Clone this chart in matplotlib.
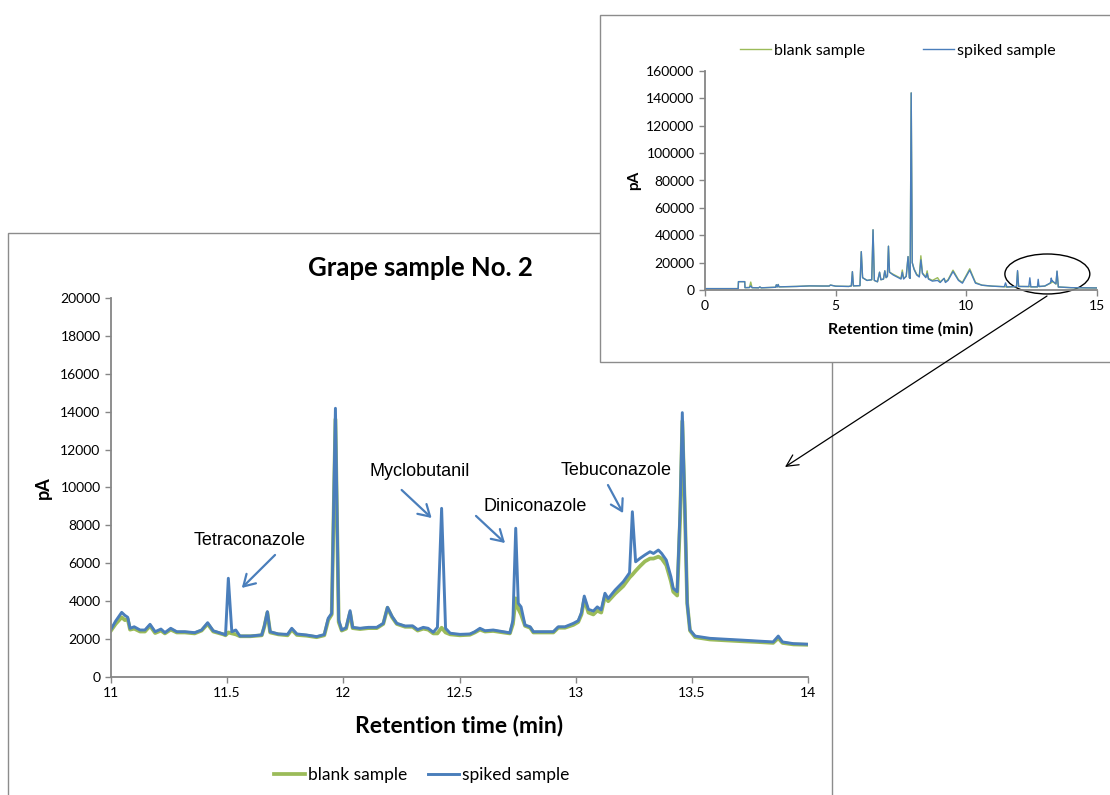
import matplotlib
matplotlib.use("Agg")
import matplotlib.pyplot as plt
from matplotlib.patches import Rectangle, Ellipse

# ---- zoomed chromatogram, 11-14 min ----
zoom_time = [11.000, 11.020, 11.046, 11.060, 11.072, 11.082, 11.100, 11.125, 11.146, 11.168,
             11.190, 11.215, 11.232, 11.257, 11.283, 11.318, 11.360, 11.390, 11.416, 11.440,
             11.483, 11.493, 11.505, 11.520, 11.537, 11.555, 11.600, 11.649, 11.660, 11.673,
             11.685, 11.720, 11.760, 11.778, 11.800, 11.842, 11.885, 11.918, 11.935, 11.950,
             11.966, 11.980, 11.993, 12.012, 12.029, 12.040, 12.072, 12.108, 12.144, 12.172,
             12.190, 12.210, 12.230, 12.266, 12.298, 12.320, 12.344, 12.365, 12.387, 12.405,
             12.423, 12.440, 12.460, 12.502, 12.545, 12.566, 12.588, 12.610, 12.645, 12.688,
             12.717, 12.730, 12.742, 12.753, 12.765, 12.782, 12.804, 12.818, 12.860, 12.904,
             12.925, 12.954, 12.990, 13.011, 13.025, 13.037, 13.055, 13.076, 13.093, 13.110,
             13.126, 13.140, 13.170, 13.205, 13.220, 13.232, 13.244, 13.258, 13.277, 13.298,
             13.320, 13.335, 13.356, 13.370, 13.390, 13.410, 13.420, 13.437, 13.450, 13.459,
             13.470, 13.480, 13.492, 13.514, 13.578, 13.650, 13.710, 13.779, 13.850, 13.872,
             13.890, 13.937, 14.000]
zoom_spiked = [2520, 2950, 3410, 3250, 3150, 2570, 2650, 2480, 2480, 2780,
               2390, 2530, 2340, 2570, 2390, 2390, 2340, 2480, 2865, 2440,
               2270, 2220, 5210, 2390, 2480, 2160, 2160, 2220, 2700, 3450,
               2390, 2270, 2250, 2570, 2270, 2216, 2130, 2240, 3100, 3360,
               14180, 3010, 2480, 2600, 3500, 2620, 2570, 2620, 2620, 2830,
               3680, 3190, 2830, 2690, 2700, 2500, 2620, 2570, 2360, 2620,
               8900, 2570, 2310, 2250, 2270, 2390, 2570, 2440, 2480, 2390,
               2330, 3000, 7850, 3890, 3700, 2740, 2650, 2390, 2390, 2390,
               2650, 2650, 2830, 2970, 3400, 4270, 3570, 3480, 3700, 3540,
               4420, 4140, 4590, 5030, 5290, 5500, 8720, 6080, 6260, 6440,
               6610, 6520, 6700, 6520, 6170, 5290, 4680, 4500, 9000, 13950,
               9000, 3890, 2480, 2160, 2040, 1990, 1950, 1900, 1850, 2160,
               1850, 1760, 1730]
zoom_blank = [2450, 2800, 3150, 3000, 3050, 2500, 2550, 2400, 2400, 2700,
              2320, 2450, 2300, 2500, 2350, 2350, 2300, 2450, 2800, 2400,
              2250, 2200, 2350, 2300, 2250, 2150, 2150, 2200, 2650, 3400,
              2350, 2250, 2200, 2500, 2220, 2180, 2100, 2200, 3000, 3300,
              13600, 2900, 2450, 2550, 3400, 2580, 2530, 2580, 2580, 2800,
              3650, 3150, 2800, 2650, 2650, 2450, 2550, 2500, 2300, 2300,
              2600, 2350, 2250, 2200, 2230, 2350, 2500, 2400, 2430, 2350,
              2300, 2800, 4150, 3600, 3300, 2700, 2600, 2350, 2350, 2350,
              2600, 2600, 2750, 2900, 3300, 4100, 3400, 3300, 3500, 3400,
              4250, 4000, 4400, 4800, 5050, 5250, 5400, 5600, 5850, 6100,
              6250, 6250, 6350, 6250, 5900, 5050, 4500, 4300, 8500, 13500,
              8800, 3900, 2450, 2100, 1980, 1930, 1890, 1850, 1800, 2050,
              1800, 1720, 1700]

# ---- full chromatogram, 0-15 min ----
full_time = [0.00, 1.27, 1.28, 1.52, 1.53, 1.70, 1.75, 1.80, 2.05, 2.10,
             2.15, 2.70, 2.73, 2.76, 2.80, 2.83, 3.50, 4.00, 4.50, 4.75,
             4.80, 5.00, 5.50, 5.60, 5.64, 5.68, 5.93, 5.98, 6.03, 6.20,
             6.38, 6.43, 6.48, 6.60, 6.68, 6.73, 6.83, 6.88, 6.93, 6.98,
             7.02, 7.06, 7.20, 7.35, 7.50, 7.55, 7.60, 7.70, 7.77, 7.82,
             7.85, 7.89, 7.93, 8.00, 8.10, 8.20, 8.26, 8.32, 8.45, 8.50,
             8.55, 8.70, 8.90, 9.00, 9.15, 9.20, 9.30, 9.49, 9.70, 9.85,
             10.13, 10.35, 10.60, 11.00, 11.45, 11.50, 11.55, 11.92, 11.96, 12.00,
             12.39, 12.43, 12.47, 12.72, 12.75, 12.78, 13.00, 13.20, 13.22, 13.25,
             13.28, 13.30, 13.43, 13.47, 13.52, 14.00, 15.00]
full_spiked = [1000, 1000, 6100, 6100, 1700, 1800, 3000, 1700, 1600, 2200,
               1600, 2000, 3800, 2200, 4000, 2300, 2600, 3000, 2900, 2900,
               3600, 2800, 2600, 3000, 13400, 3000, 3200, 28000, 9000, 7000,
               7500, 44000, 7000, 6000, 13000, 7500, 8000, 14000, 9000, 10000,
               32000, 13000, 11000, 9500, 8000, 13000, 8000, 10000, 24400, 9000,
               8500, 144000, 20000, 15000, 11000, 9500, 22000, 12000, 9000, 12000,
               8000, 6500, 7000, 5500, 8500, 5500, 7000, 13500, 7000, 5000,
               14500, 5000, 3500, 2800, 2400, 5200, 2200, 2500, 14200, 2600,
               2500, 8900, 2300, 2300, 7800, 2600, 2900, 5000, 5300, 8700,
               6300, 6500, 4500, 13900, 2200, 1700, 1500]
full_blank = [1000, 1000, 6100, 6100, 1700, 1800, 5800, 1700, 1600, 2200,
              1600, 2000, 3800, 2200, 4000, 2300, 2600, 3000, 2900, 2900,
              3600, 2800, 2600, 3000, 13400, 3000, 3200, 28000, 9000, 7000,
              7500, 44000, 7000, 6000, 13000, 7500, 8000, 14000, 9000, 10000,
              32000, 13000, 11500, 10000, 8500, 14600, 8500, 10000, 24400, 9000,
              8500, 144000, 20000, 15500, 11500, 10000, 25000, 12500, 9500, 14000,
              8500, 7000, 9000, 6000, 8500, 6000, 7500, 14500, 7500, 5500,
              15500, 5500, 3500, 2800, 2400, 2400, 2200, 2500, 13500, 2600,
              2500, 2500, 2300, 2300, 4100, 2500, 2800, 4800, 5000, 5300,
              5900, 6200, 4300, 13400, 2200, 1700, 1500]

# ---- annotations on zoomed chart: (label, text pos, arrow tail, arrow head) ----
peak_names = ["Tetraconazole", "Myclobutanil", "Diniconazole", "Tebuconazole"]
label_pos = [(11.598, 7180), (12.330, 10870), (12.825, 9020), (13.174, 10920)]
arrow_tail = [(11.706, 6440), (12.251, 9870), (12.571, 8500), (13.139, 10130)]
arrow_head = [(11.563, 4700), (12.380, 8390), (12.696, 7070), (13.204, 8650)]

BLUE = "#4A7EBB"
GREEN = "#9BBB59"
GRAY = "#868686"
LABEL_FONT = "Lato"
NOTE_FONT = "Liberation Sans"


def style_axes(ax, fontsize):
    for side in ["top", "right"]:
        ax.spines[side].set_visible(False)
    for side in ["left", "bottom"]:
        ax.spines[side].set_color(GRAY)
        ax.spines[side].set_linewidth(1.3)
    ax.tick_params(direction="out", length=4, width=1, color=GRAY,
                   labelsize=fontsize, labelcolor="black")
    for lbl in ax.get_xticklabels() + ax.get_yticklabels():
        lbl.set_family(LABEL_FONT)


def main():
    W, H = 1110, 795
    fig = plt.figure(figsize=(W / 100, H / 100), dpi=100)

    def fx(px):
        return px / W

    def fy(py):
        return 1 - py / H

    # frame around main chart
    fig.patches.append(Rectangle((fx(8), -0.02), fx(832) - fx(8), fy(233) + 0.02,
                                 transform=fig.transFigure, facecolor="white",
                                 edgecolor="#8c8c8c", linewidth=1.0, zorder=-2))

    # ---- main chart ----
    ax = fig.add_axes([fx(111), fy(677), fx(808) - fx(111), fy(298) - fy(677)])
    ax.set_facecolor("none")
    ax.plot(zoom_time, zoom_blank, color=GREEN, linewidth=2.7, label="blank sample",
            solid_joinstyle="round")
    ax.plot(zoom_time, zoom_spiked, color=BLUE, linewidth=2.1, label="spiked sample",
            solid_joinstyle="round")
    ax.set_xlim(11, 14)
    ax.set_ylim(0, 20000)
    ax.set_xticks([11, 11.5, 12, 12.5, 13, 13.5, 14])
    ax.set_xticklabels(["11", "11.5", "12", "12.5", "13", "13.5", "14"])
    ax.set_yticks(range(0, 20001, 2000))
    style_axes(ax, 10)
    ax.set_xlabel("Retention time (min)", family=LABEL_FONT, fontweight="bold",
                  fontsize=16.5, labelpad=11)
    ax.set_ylabel("pA", family=LABEL_FONT, fontweight="bold", fontsize=13, labelpad=6)

    for name, tp, tail, head in zip(peak_names, label_pos, arrow_tail, arrow_head):
        ax.text(tp[0], tp[1], name, family=NOTE_FONT, fontsize=13,
                ha="center", va="center")
        ax.annotate("", xy=head, xytext=tail,
                    arrowprops=dict(arrowstyle="->,head_length=0.5,head_width=0.3",
                                    color=BLUE, lw=1.6, shrinkA=0, shrinkB=0,
                                    mutation_scale=16))

    ax.legend(loc="center", bbox_to_anchor=(fx(422), fy(775)),
              bbox_transform=fig.transFigure, ncol=2, frameon=False,
              prop={"family": LABEL_FONT, "size": 12.5}, handlelength=1.75,
              handletextpad=0.2, columnspacing=1.2)

    fig.text(fx(420), fy(268), "Grape sample No. 2", family=LABEL_FONT,
             fontweight="bold", fontsize=18.5, ha="center", va="center")

    # ---- inset with full run ----
    fig.patches.append(Rectangle((fx(600), fy(362)), 1.0, fy(15) - fy(362),
                                 transform=fig.transFigure, facecolor="white",
                                 edgecolor="#8c8c8c", linewidth=1.0, zorder=2))
    ins = fig.add_axes([fx(705), fy(290), fx(1097) - fx(705), fy(71) - fy(290)],
                       zorder=3)
    ins.set_facecolor("none")
    ins.plot(full_time, full_blank, color=GREEN, linewidth=1.0, label="blank sample")
    ins.plot(full_time, full_spiked, color=BLUE, linewidth=1.0, label="spiked sample")
    ins.set_xlim(0, 15)
    ins.set_ylim(0, 160000)
    ins.set_xticks([0, 5, 10, 15])
    ins.set_yticks(range(0, 160001, 20000))
    style_axes(ins, 10)
    ins.set_xlabel("Retention time (min)", family=LABEL_FONT, fontweight="bold",
                   fontsize=11.5, labelpad=7)
    ins.set_ylabel("pA", family=LABEL_FONT, fontweight="bold", fontsize=11, labelpad=4)
    ins.legend(loc="center", bbox_to_anchor=(fx(898), fy(51)),
               bbox_transform=fig.transFigure, ncol=2, frameon=False,
               prop={"family": LABEL_FONT, "size": 11.5}, handlelength=1.95,
               handletextpad=0.2, columnspacing=3.6)

    ins.add_patch(Ellipse((13.1, 11700), 3.25, 29200, facecolor="none",
                          edgecolor="black", linewidth=1.0, clip_on=False))

    # zoom pointer from the ellipse to the main chart
    ins.annotate("", xy=(785, H - 467), xycoords="figure pixels",
                 xytext=(1047, H - 296), textcoords="figure pixels",
                 arrowprops=dict(arrowstyle="->,head_length=0.6,head_width=0.3",
                                 color="black", lw=0.9, shrinkA=0, shrinkB=0,
                                 mutation_scale=14),
                 annotation_clip=False)

    fig.savefig("out.png", dpi=100)


if __name__ == "__main__":
    main()
